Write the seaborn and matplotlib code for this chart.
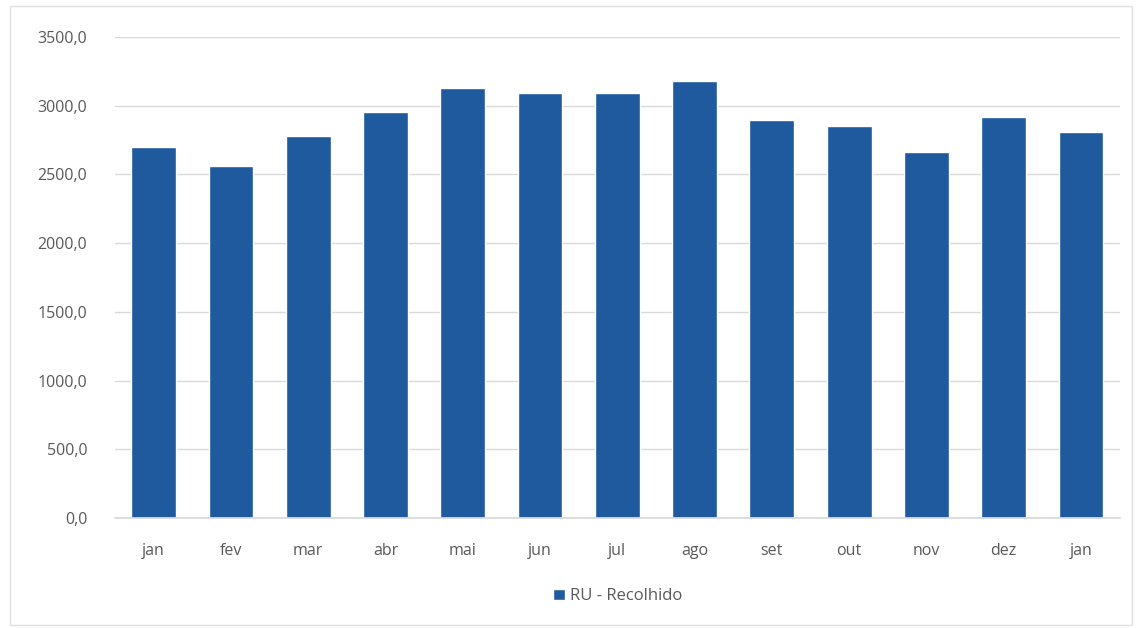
import matplotlib
matplotlib.use("Agg")
import matplotlib.pyplot as plt
import matplotlib.ticker as mticker
import seaborn as sns
import pandas as pd

# data
months = ["jan", "fev", "mar", "abr", "mai", "jun", "jul", "ago", "set", "out", "nov", "dez", "jan"]
recolhido = [2702, 2564, 2780, 2955, 3127, 3095, 3095, 3183, 2897, 2853, 2666, 2916, 2811]
y_ticks = [0, 500, 1000, 1500, 2000, 2500, 3000, 3500]
series_name = "RU - Recolhido"

BAR_COLOR = "#1f5a9e"
TEXT_COLOR = "#595959"

sns.set_theme(style="white")
plt.rcParams["font.family"] = ["Open Sans", "DejaVu Sans"]

df = pd.DataFrame({"pos": range(len(months)), "valor": recolhido})

fig = plt.figure(figsize=(11.39, 6.28), dpi=100)
ax = fig.add_axes([0.101, 0.175, 0.882, 0.766])

sns.barplot(data=df, x="pos", y="valor", color=BAR_COLOR, width=0.58,
            saturation=1, ax=ax, label=series_name)

ax.set_ylim(0, 3500)
ax.set_yticks(y_ticks)
ax.yaxis.set_major_formatter(mticker.FuncFormatter(lambda v, _: f"{v:.1f}".replace(".", ",")))
ax.set_xticks(range(len(months)))
ax.set_xticklabels(months)
ax.set_xlabel("")
ax.set_ylabel("")

ax.grid(axis="y", color="#d9d9d9", linewidth=1)
ax.set_axisbelow(True)
for side in ["top", "right", "left"]:
    ax.spines[side].set_visible(False)
ax.spines["bottom"].set_color("#d9d9d9")
ax.tick_params(axis="both", length=0, labelsize=11.5, colors=TEXT_COLOR)
ax.tick_params(axis="x", pad=18)
ax.tick_params(axis="y", pad=20)

leg = ax.legend(loc="upper center", bbox_to_anchor=(0.5, -0.115), frameon=False,
                fontsize=12, handlelength=0.7, handleheight=0.7, handletextpad=0.3)
for t in leg.get_texts():
    t.set_color(TEXT_COLOR)

# thin frame around the whole chart area
fig.patches.append(plt.Rectangle((0.009, 0.005), 0.985, 0.985, transform=fig.transFigure,
                                 fill=False, edgecolor="#e0e0e0", linewidth=1))

fig.savefig("out.png", dpi=100)
